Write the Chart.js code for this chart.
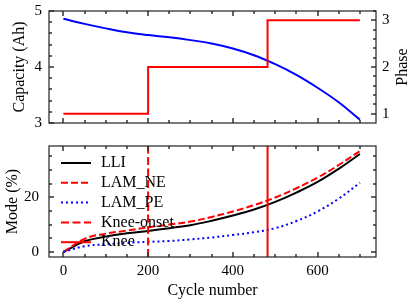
<!DOCTYPE html>
<html>
<head>
<meta charset="utf-8">
<script src="https://cdn.jsdelivr.net/npm/chart.js@4.4.0/dist/chart.umd.min.js"></script>
<style>
  html, body { margin: 0; padding: 0; background: #fff; }
  #wrap { position: relative; width: 416px; height: 302px; }
  canvas { position: absolute; left: 0; }
  #capChart { top: 0; }
  #modeChart { top: 135px; }
</style>
</head>
<body>
<div id="wrap">
  <canvas id="capChart" width="416" height="135"></canvas>
  <canvas id="modeChart" width="416" height="167"></canvas>
</div>
<script>
// データ
const cycles = [0, 50, 100, 150, 200, 250, 300, 350, 400, 450, 500, 550, 600, 650, 700];
const capacity = [4.86, 4.77, 4.69, 4.62, 4.57, 4.53, 4.48, 4.42, 4.33, 4.21, 4.05, 3.86, 3.63, 3.37, 3.06];
const phaseCycles = [0, 200, 482, 700];
const phaseValues = [1, 2, 3, 3];
const lli = [0, 3.9, 5.6, 6.8, 7.7, 8.7, 9.8, 11.4, 13.3, 15.5, 18.3, 21.7, 25.6, 30.4, 35.8];
const lamNe = [0, 4.8, 6.7, 7.8, 9.0, 10.0, 11.1, 12.8, 14.8, 17.1, 19.9, 23.3, 27.2, 31.8, 36.9];
const lamPe = [0, 2.1, 2.8, 3.3, 3.7, 4.0, 4.6, 5.3, 6.2, 7.2, 8.7, 11.3, 14.8, 19.5, 25.3];
const kneeOnset = 200;
const knee = 482;

// 軸
const xRange = [-34, 738];
const capRange = [3, 5];
const phaseRange = [0.8, 3.2];
const modeRange = [-1.845, 38.745];
const xTicks = [0, 200, 400, 600];
const capTicks = [3, 4, 5];
const phaseTicks = [1, 2, 3];
const modeTicks = [0, 20];

const RED = '#ff0000';
const BLUE = '#0000ff';
const FONT = "'Liberation Serif', 'Times New Roman', serif";

Chart.defaults.font.family = FONT;
Chart.defaults.font.size = 15;
Chart.defaults.color = '#000';

const pts = (xs, ys) => xs.map((x, i) => ({ x: x, y: ys[i] }));

// 枠と内向きの目盛り
function frameTicks(marks) {
    return {
        id: 'frameTicks',
        afterDraw(chart) {
            const { ctx, chartArea: a } = chart;
            ctx.save();
            ctx.strokeStyle = '#333';
            ctx.lineWidth = 1.5;
            marks.forEach(m => {
                const s = chart.scales[m.scale];
                const n = Math.round((m.to - m.from) / m.step);
                for (let i = 0; i <= n; i++) {
                    const v = m.from + i * m.step;
                    const major = m.major.some(t => Math.abs(t - v) < 1e-6);
                    const len = major ? 5 : 3;
                    const p = Math.round(s.getPixelForValue(v));
                    ctx.beginPath();
                    m.sides.forEach(side => {
                        if (side === 'bottom') { ctx.moveTo(p, a.bottom); ctx.lineTo(p, a.bottom - len); }
                        if (side === 'top') { ctx.moveTo(p, a.top); ctx.lineTo(p, a.top + len); }
                        if (side === 'left') { ctx.moveTo(a.left, p); ctx.lineTo(a.left + len, p); }
                        if (side === 'right') { ctx.moveTo(a.right, p); ctx.lineTo(a.right - len, p); }
                    });
                    ctx.stroke();
                }
            });
            ctx.strokeStyle = '#222';
            ctx.lineWidth = 1.2;
            ctx.strokeRect(a.left, a.top, a.right - a.left, a.bottom - a.top);
            ctx.restore();
        }
    };
}

// 右軸ラベル (下から上へ読む)
function rightTitle(text, size, offset) {
    return {
        id: 'rightTitle',
        afterDraw(chart) {
            const { ctx, chartArea: a } = chart;
            ctx.save();
            ctx.font = size + 'px ' + FONT;
            ctx.fillStyle = '#000';
            ctx.textAlign = 'center';
            ctx.textBaseline = 'alphabetic';
            ctx.translate(a.right + offset, (a.top + a.bottom) / 2);
            ctx.rotate(-Math.PI / 2);
            ctx.fillText(text, 0, 0);
            ctx.restore();
        }
    };
}

// 凡例 (プロット内、枠なし)
function innerLegend(o) {
    return {
        id: 'innerLegend',
        afterDatasetsDraw(chart) {
            const { ctx, chartArea: a } = chart;
            ctx.save();
            ctx.font = o.size + 'px ' + FONT;
            ctx.fillStyle = '#000';
            ctx.textBaseline = 'middle';
            chart.data.datasets.forEach((ds, i) => {
                const x = a.left + o.dx;
                const y = a.top + o.dy + i * o.row;
                ctx.beginPath();
                ctx.strokeStyle = ds.borderColor;
                ctx.lineWidth = ds.borderWidth;
                ctx.setLineDash(ds.borderDash || []);
                ctx.moveTo(x, y);
                ctx.lineTo(x + o.handle, y);
                ctx.stroke();
                ctx.setLineDash([]);
                ctx.fillText(ds.label, x + o.handle + o.gap, y);
            });
            ctx.restore();
        }
    };
}

function axis(extra, size) {
    return Object.assign({
        type: 'linear',
        grid: { display: false, drawTicks: false },
        border: { display: false },
        afterFit(s) {
            if (s.isHorizontal()) s.height = size; else s.width = size;
            s.paddingTop = s.paddingBottom = s.paddingLeft = s.paddingRight = 0;
        }
    }, extra);
}

const tickSet = values => s => { s.ticks = values.map(v => ({ value: v })); };

const baseOptions = {
    responsive: false,
    animation: false,
    devicePixelRatio: 1,
    events: [],
    plugins: { legend: { display: false }, tooltip: { enabled: false } },
    elements: { point: { radius: 0 }, line: { tension: 0.4 } }
};

// 上段: 容量とフェーズ
new Chart(document.getElementById('capChart'), {
    type: 'line',
    data: {
        datasets: [
            {
                label: 'Capacity',
                data: pts(cycles, capacity),
                yAxisID: 'y',
                borderColor: BLUE,
                borderWidth: 2,
                order: 1
            },
            {
                label: 'Phase',
                data: pts(phaseCycles, phaseValues),
                yAxisID: 'y2',
                borderColor: RED,
                borderWidth: 2,
                stepped: true,
                order: 0
            }
        ]
    },
    options: Object.assign({}, baseOptions, {
        layout: { padding: { top: 11, left: 0, right: 0, bottom: 0 } },
        scales: {
            x: axis({ min: xRange[0], max: xRange[1], afterBuildTicks: tickSet(xTicks),
                ticks: { display: false } }, 12),
            y: axis({ position: 'left', min: capRange[0], max: capRange[1], afterBuildTicks: tickSet(capTicks),
                ticks: { padding: 7 },
                title: { display: true, text: 'Capacity (Ah)', font: { size: 16 }, padding: { top: 10.5 } } }, 49),
            y2: axis({ position: 'right', min: phaseRange[0], max: phaseRange[1], afterBuildTicks: tickSet(phaseTicks),
                ticks: { padding: 6 } }, 40)
        }
    }),
    plugins: [
        frameTicks([
            { scale: 'x', from: 0, to: 700, step: 50, major: xTicks, sides: ['bottom', 'top'] },
            { scale: 'y', from: 3, to: 5, step: 0.2, major: capTicks, sides: ['left'] },
            { scale: 'y2', from: 1, to: 3.2, step: 0.2, major: phaseTicks, sides: ['right'] }
        ]),
        rightTitle('Phase', 16, 31)
    ]
});

// 下段: 劣化モード
new Chart(document.getElementById('modeChart'), {
    type: 'line',
    data: {
        datasets: [
            { label: 'LLI', data: pts(cycles, lli), borderColor: '#000', borderWidth: 2, order: 5 },
            { label: 'LAM_NE', data: pts(cycles, lamNe), borderColor: RED, borderWidth: 2, borderDash: [7, 3], order: 4 },
            { label: 'LAM_PE', data: pts(cycles, lamPe), borderColor: BLUE, borderWidth: 2, borderDash: [2, 3], order: 3 },
            { label: 'Knee-onset', data: pts([kneeOnset, kneeOnset], modeRange), borderColor: RED, borderWidth: 2,
              borderDash: [8, 3.5], tension: 0, order: 2 },
            { label: 'Knee', data: pts([knee, knee], modeRange), borderColor: RED, borderWidth: 2, tension: 0, order: 1 }
        ]
    },
    options: Object.assign({}, baseOptions, {
        layout: { padding: { top: 11, left: 0, right: 40, bottom: 0 } },
        scales: {
            x: axis({ min: xRange[0], max: xRange[1], afterBuildTicks: tickSet(xTicks),
                ticks: { padding: 5 },
                title: { display: true, text: 'Cycle number', font: { size: 16 }, padding: { top: 0, bottom: 2 } } }, 45),
            y: axis({ position: 'left', min: modeRange[0], max: modeRange[1], afterBuildTicks: tickSet(modeTicks),
                ticks: { padding: 10 },
                title: { display: true, text: 'Mode (%)', font: { size: 16 }, padding: { top: 3 } } }, 49)
        }
    }),
    plugins: [
        frameTicks([
            { scale: 'x', from: 0, to: 700, step: 50, major: xTicks, sides: ['bottom', 'top'] },
            { scale: 'y', from: 0, to: 35, step: 5, major: modeTicks, sides: ['left', 'right'] }
        ]),
        innerLegend({ size: 16, dx: 12, dy: 17, row: 19.8, handle: 30, gap: 10 })
    ]
});
</script>
</body>
</html>
